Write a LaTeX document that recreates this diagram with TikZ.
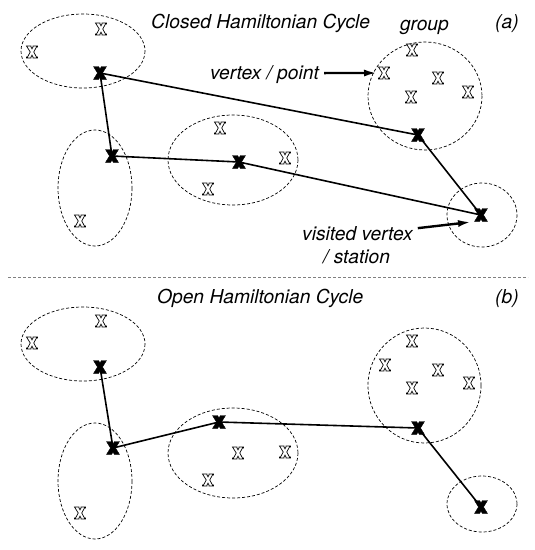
\documentclass[tikz,border=0pt]{standalone}
\usepackage{fontspec}
\setmainfont{TeX Gyre Heros}
\usetikzlibrary{arrows.meta}
\tikzset{
  grp/.style={draw, line width=0.7pt, dash pattern=on 3pt off 2pt},
  edge/.style={draw, line width=1.6pt},
  lbl/.style={anchor=base west, inner sep=0pt, font=\itshape\fontsize{19.2}{23}\selectfont},
  pointer/.style={line width=2.4pt, -{Latex[length=13pt,width=7pt]}},
  hx/.pic={\draw[line width=0.7pt, fill=white]
    (-5.5,-6)--(-1,-6)--(-1,-5)--(0,-3.2)--(1,-5)--(1,-6)--(5.5,-6)--(5.5,-5)--(4.46,-5)--(1.75,0)
    --(4.46,5)--(5.5,5)--(5.5,6)--(1,6)--(1,5)--(0,3.2)--(-1,5)--(-1,6)--(-5.5,6)--(-5.5,5)--(-4.46,5)--(-1.75,0)--cycle;},
  bx/.pic={\filldraw[line width=0.4pt]
    (-6.5,-6.5)--(-1.5,-6.5)--(0,-4.06)--(1.5,-6.5)--(6.5,-6.5)--(2.5,0)--(6.5,6.5)--(1.5,6.5)
    --(0,4.06)--(-1.5,6.5)--(-6.5,6.5)--(-2.5,0)--cycle;}
}
\begin{document}
\begin{tikzpicture}[x=1pt,y=-1pt]
\useasboundingbox (0,0) rectangle (535,550);
% ---------- (a) ----------
\draw[grp] (83,51) ellipse [x radius=62, y radius=37];
\draw[grp] (95,188) ellipse [x radius=37, y radius=58];
\draw[grp] (233,160) ellipse [x radius=65, y radius=45];
\draw[grp] (425,96) ellipse [x radius=57, y radius=54];
\draw[grp] (482,215) ellipse [x radius=35, y radius=32];
\coordinate (a1) at (100,73);
\coordinate (a2) at (112,156);
\coordinate (a3) at (239,162);
\coordinate (a4) at (481,215);
\coordinate (a5) at (418,135);
\draw[edge] (a1) -- (a2) -- (a3) -- (a4) -- (a5) -- (a1);
\foreach \p in {(101,29),(32,52),(80,221),(220,128),(208,189),(285,158),(412,50),(384,73),(438,78),(411,97),(468,92)}
  \pic at \p {hx};
\foreach \p in {a1,a2,a3,a4,a5} \pic at (\p) {bx};
\node[lbl] (ta) at (151,28) {Closed Hamiltonian Cycle};
\node[lbl] (grpl) at (400,30) {group};
\node[lbl] (la) at (495,28) {(a)};
\node[lbl] (vp) at (210,79) {vertex / point};
\coordinate (vpt) at (377,73);
\draw[pointer] ([xshift=5pt,yshift=1pt]vp.east) -- (vpt);
\node[lbl] (vv) at (302,240) {visited vertex};
\node[lbl] (st) at (323,263) {/ station};
\coordinate (vvt) at (471,222);
\draw[pointer] ([xshift=5pt,yshift=5pt]vv.east) -- (vvt);
% separator
\coordinate (s1) at (8,277);
\coordinate (s2) at (528,277);
\draw[gray, line width=0.8pt, dash pattern=on 3pt off 2pt] (s1) -- (s2);
% ---------- (b) ----------
\draw[grp] (83,344) ellipse [x radius=62, y radius=37];
\draw[grp] (95,481) ellipse [x radius=37, y radius=58];
\draw[grp] (233,453) ellipse [x radius=65, y radius=45];
\draw[grp] (424.5,385.5) ellipse [x radius=56.5, y radius=57.5];
\draw[grp] (482,504) ellipse [x radius=35, y radius=28];
\coordinate (b1) at (100,367);
\coordinate (b2) at (113,448);
\coordinate (b3) at (219,422);
\coordinate (b4) at (418,428);
\coordinate (b5) at (481,507);
\draw[edge] (b1) -- (b2) -- (b3) -- (b4) -- (b5);
\foreach \p in {(101,321),(32,343),(80,513),(238,453),(208,480),(285,452),(412,341),(385,365),(438,370),(412,388),(469,383)}
  \pic at \p {hx};
\foreach \p in {b1,b2,b3,b4,b5} \pic at (\p) {bx};
\node[lbl] (tb) at (157,303) {Open Hamiltonian Cycle};
\node[lbl] (lb) at (495,303) {(b)};
\end{tikzpicture}
\end{document}
